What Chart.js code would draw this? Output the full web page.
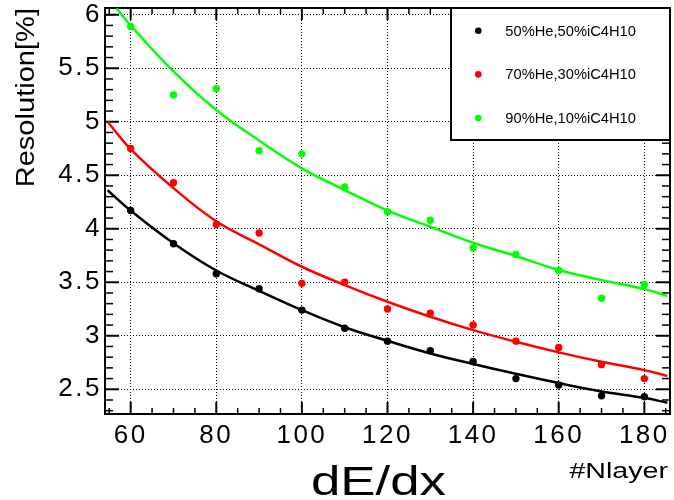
<!DOCTYPE html>
<html>
<head>
<meta charset="utf-8">
<script src="https://cdn.jsdelivr.net/npm/chart.js@4.4.1/dist/chart.umd.min.js"></script>
<style>
html,body{margin:0;padding:0;background:#fff;}
canvas{display:block;}
</style>
</head>
<body>
<canvas id="c" width="674" height="500"></canvas>
<script>
// ---- data ----
const nLayer = [60, 70, 80, 90, 100, 110, 120, 130, 140, 150, 160, 170, 180];
const res50He = [4.17, 3.86, 3.58, 3.44, 3.24, 3.07, 2.95, 2.86, 2.76, 2.60, 2.54, 2.44, 2.43];
const res70He = [4.75, 4.43, 4.04, 3.96, 3.49, 3.50, 3.25, 3.21, 3.10, 2.95, 2.89, 2.73, 2.60];
const res90He = [5.89, 5.25, 5.31, 4.73, 4.70, 4.39, 4.16, 4.08, 3.82, 3.76, 3.61, 3.35, 3.48];

// fitted curves at these x positions
const fitX = [54.6, 60, 70, 80, 90, 100, 110, 120, 130, 140, 150, 160, 170, 180, 185.4];
const fit50He = [4.36, 4.17, 3.865, 3.61, 3.42, 3.24, 3.08, 2.953, 2.835, 2.737, 2.645, 2.558, 2.48, 2.42, 2.374];
const fit70He = [5.0, 4.745, 4.38, 4.07, 3.855, 3.645, 3.474, 3.318, 3.178, 3.053, 2.944, 2.845, 2.757, 2.679, 2.623];
const fitX90 = [56.7, 60, 70, 80, 90, 100, 110, 120, 130, 140, 150, 160, 170, 180, 185.4];
const fit90He = [6.06, 5.90, 5.47, 5.11, 4.825, 4.564, 4.362, 4.17, 4.019, 3.869, 3.745, 3.614, 3.52, 3.436, 3.371];

const seriesNames = ['50%He,50%iC4H10', '70%He,30%iC4H10', '90%He,10%iC4H10'];
const seriesColors = ['#000000', '#ff0000', '#00ff00'];

const xTicks = [60, 80, 100, 120, 140, 160, 180];
const xTickLabels = ['60', '80', '100', '120', '140', '160', '180'];
const yTicks = [2.5, 3, 3.5, 4, 4.5, 5, 5.5, 6];
const yTickLabels = ['2.5', '3', '3.5', '4', '4.5', '5', '5.5', '6'];
const xMinorTicks = [55, 65, 70, 75, 85, 90, 95, 105, 110, 115, 125, 130, 135, 145, 150, 155, 165, 170, 175, 185];
const yMinorTicks = [2.3, 2.4, 2.6, 2.7, 2.8, 2.9, 3.1, 3.2, 3.3, 3.4, 3.6, 3.7, 3.8, 3.9, 4.1, 4.2, 4.3, 4.4, 4.6, 4.7, 4.8, 4.9, 5.1, 5.2, 5.3, 5.4, 5.6, 5.7, 5.8, 5.9, 6.0];
const xTitle = 'dE/dx';
const xSubTitle = '#Nlayer';
const yTitle = 'Resolution[%]';

const FONT = '"Liberation Sans", Arial, Helvetica, sans-serif';

const toXY = (xs, ys) => xs.map((x, i) => ({x: x, y: ys[i]}));

const pointSets = [res50He, res70He, res90He].map((vals, i) => ({
  type: 'scatter',
  label: seriesNames[i],
  data: toXY(nLayer, vals),
  backgroundColor: seriesColors[i],
  borderColor: seriesColors[i],
  borderWidth: 0,
  pointRadius: 3.7,
  pointHoverRadius: 3.7,
  showLine: false,
  order: 0
}));

const curveSets = [[fitX, fit50He], [fitX, fit70He], [fitX90, fit90He]].map((c, i) => ({
  type: 'line',
  label: seriesNames[i] + ' fit',
  data: toXY(c[0], c[1]),
  borderColor: seriesColors[i],
  backgroundColor: seriesColors[i],
  borderWidth: 2.5,
  pointRadius: 0,
  fill: false,
  tension: 0.4,
  order: 1
}));

const rootStyle = {
  id: 'rootStyle',
  beforeDraw(chart) {
    chart.ctx.letterSpacing = '2.5px';
  },
  beforeDatasetsDraw(chart) {
    const ctx = chart.ctx;
    ctx.letterSpacing = '0px';
    const {left, right, top, bottom} = chart.chartArea;
    const xs = chart.scales.x, ys = chart.scales.y;
    ctx.save();
    ctx.strokeStyle = '#000';
    ctx.lineWidth = 2;
    ctx.beginPath();
    ctx.moveTo(left, top); ctx.lineTo(right, top); ctx.lineTo(right, bottom);
    ctx.stroke();
    const seg = (x1, y1, x2, y2, w) => {
      ctx.lineWidth = w; ctx.beginPath(); ctx.moveTo(x1, y1); ctx.lineTo(x2, y2); ctx.stroke();
    };
    xTicks.forEach(v => { const p = xs.getPixelForValue(v); seg(p, bottom, p, bottom - 12, 2); seg(p, top, p, top + 12, 2); });
    xMinorTicks.forEach(v => { const p = xs.getPixelForValue(v); seg(p, bottom, p, bottom - 6, 1.5); seg(p, top, p, top + 6, 1.5); });
    yTicks.forEach(v => { const p = ys.getPixelForValue(v); seg(left, p, left + 14, p, 2); seg(right, p, right - 14, p, 2); });
    yMinorTicks.forEach(v => { const p = ys.getPixelForValue(v); seg(left, p, left + 8, p, 1.5); seg(right, p, right - 8, p, 1.5); });
    ctx.restore();
  },
  afterDraw(chart) {
    const ctx = chart.ctx;
    const {right, top} = chart.chartArea;
    ctx.save();
    ctx.letterSpacing = '0px';
    // legend
    const lw = 219, lh = 132;
    const lx = right - lw, ly = top;
    ctx.fillStyle = '#fff';
    ctx.fillRect(lx, ly, lw, lh);
    ctx.strokeStyle = '#000';
    ctx.lineWidth = 2;
    ctx.strokeRect(lx, ly, lw, lh);
    ctx.font = '14.7px ' + FONT;
    ctx.textAlign = 'left';
    ctx.textBaseline = 'alphabetic';
    seriesNames.forEach((name, i) => {
      const cy = ly + 22.7 + i * 43.7;
      ctx.fillStyle = seriesColors[i];
      ctx.beginPath(); ctx.arc(lx + 27.3, cy, 3.3, 0, Math.PI * 2); ctx.fill();
      ctx.fillStyle = '#000';
      ctx.fillText(name, lx + 54.3, cy + 5);
    });
    // axis titles
    ctx.fillStyle = '#000';
    ctx.save();
    ctx.font = '40px ' + FONT;
    ctx.textAlign = 'right';
    ctx.translate(446, 495);
    ctx.scale(1.32, 1);
    ctx.fillText(xTitle, 0, 0);
    ctx.restore();

    ctx.save();
    ctx.font = '22px ' + FONT;
    ctx.textAlign = 'right';
    ctx.translate(668, 478.3);
    ctx.scale(1.3, 1);
    ctx.fillText(xSubTitle, 0, 0);
    ctx.restore();

    ctx.save();
    ctx.font = '25.5px ' + FONT;
    ctx.textAlign = 'right';
    ctx.translate(33.5, top);
    ctx.rotate(-Math.PI / 2);
    ctx.scale(1.14, 1);
    ctx.fillText(yTitle, 0, 0);
    ctx.restore();
    ctx.restore();
  }
};

new Chart(document.getElementById('c'), {
  data: { datasets: [...pointSets, ...curveSets] },
  options: {
    responsive: false,
    animation: false,
    devicePixelRatio: 1,
    events: [],
    layout: { padding: { top: 8, right: 4, left: 0, bottom: 0 } },
    plugins: { legend: { display: false }, tooltip: { enabled: false } },
    scales: {
      x: {
        type: 'linear',
        min: 54, max: 186,
        afterBuildTicks: s => { s.ticks = xTicks.map(v => ({value: v})); },
        afterFit: s => { s.height = 86; s.paddingLeft = 0; s.paddingRight = 0; s.paddingTop = 0; s.paddingBottom = 0; },
        ticks: {
          color: '#000',
          font: { family: FONT, size: 26 },
          padding: 6,
          maxRotation: 0,
          autoSkip: false,
          callback: (v) => { const i = xTicks.indexOf(v); return i >= 0 ? xTickLabels[i] : ''; }
        },
        grid: { color: '#000', lineWidth: 1, drawTicks: false },
        border: { display: true, color: '#000', width: 2, dash: [1, 2] }
      },
      y: {
        type: 'linear',
        min: 2.269, max: 6.063,
        afterBuildTicks: s => { s.ticks = yTicks.map(v => ({value: v})); },
        afterFit: s => { s.width = 105; s.paddingLeft = 0; s.paddingRight = 0; s.paddingTop = 0; s.paddingBottom = 0; },
        ticks: {
          color: '#000',
          font: { family: FONT, size: 26 },
          padding: 3,
          autoSkip: false,
          callback: (v) => { const i = yTicks.indexOf(v); return i >= 0 ? yTickLabels[i] : ''; }
        },
        grid: { color: '#000', lineWidth: 1, drawTicks: false },
        border: { display: true, color: '#000', width: 2, dash: [1, 2] }
      }
    }
  },
  plugins: [rootStyle]
});
</script>
</body>
</html>
